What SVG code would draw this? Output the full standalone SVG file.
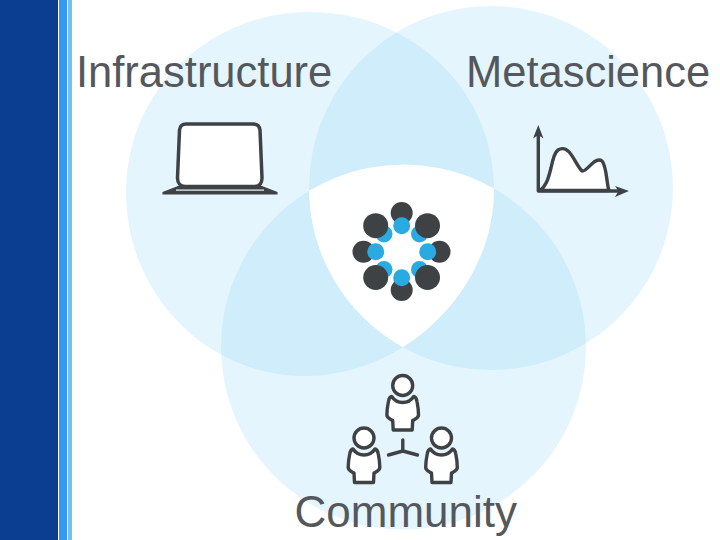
<svg xmlns="http://www.w3.org/2000/svg" width="720" height="540" viewBox="0 0 720 540">
<style>
.pale{fill:#e5f5fe}
.mid{fill:#d0edfb}
.lbl{font-family:"Liberation Sans",Arial,sans-serif;font-size:43.500px;fill:#54585c}
.dk{fill:#3f4245}
.bl{fill:#29abe2}
.ln{fill:none;stroke:#3f4245;stroke-width:3.400;stroke-linecap:round;stroke-linejoin:round}
.wln{fill:#fff;stroke:#3f4245;stroke-width:3.400;stroke-linejoin:round}
</style>
<defs>
<path id="shapeA" d="M126 192C126 91 208 12 310 12C412 12 494 90 494 190C494 289 405 376 305 376C205 376 126 293 126 192Z"/>
<clipPath id="cA"><use href="#shapeA"/></clipPath>
<clipPath id="cB"><circle cx="491" cy="188" r="182"/></clipPath>
<clipPath id="cAB" clip-path="url(#cA)"><circle cx="491" cy="188" r="182"/></clipPath>
<g id="person">
<circle cx="0" cy="0" r="10" class="wln"/>
<path class="wln" d="M-11 11C-8 15.500 -4 17 0 17C4 17 8 15.500 11 11C13 11.500 13.800 13 14.300 16C15.300 21 15.800 26 15.800 29.500C15.800 32.500 12.500 33.500 10 35L9.500 44.500L-9.500 44.500L-10 35C-12.500 33.500 -15.800 32.500 -15.800 29.500C-15.800 26 -15.300 21 -14.300 16C-13.800 13 -13 11.500 -11 11Z"/>
</g>
</defs>
<rect width="720" height="540" fill="#fff"/>
<g id="sidebar">
<rect x="0" y="0" width="58" height="540" fill="#0b3d91"/>
<rect x="59" y="0" width="8" height="540" fill="#3399f3"/>
<rect x="68" y="0" width="4" height="540" fill="#74c0f0"/>
</g>
<g id="venn">
<use href="#shapeA" class="pale"/>
<circle class="pale" cx="491" cy="188" r="182"/>
<circle class="pale" cx="403.500" cy="347" r="182.500"/>
<circle class="mid" cx="491" cy="188" r="182" clip-path="url(#cA)"/>
<circle class="mid" cx="403.500" cy="347" r="182.500" clip-path="url(#cA)"/>
<circle class="mid" cx="403.500" cy="347" r="182.500" clip-path="url(#cB)"/>
<circle fill="#fff" cx="403.500" cy="347" r="182.500" clip-path="url(#cAB)"/>
</g>
<g id="center-cluster">
<circle class="bl" cx="384" cy="234" r="8.500"/>
<circle class="bl" cx="419.500" cy="234" r="8.500"/>
<circle class="bl" cx="384" cy="269.500" r="8.500"/>
<circle class="bl" cx="419.500" cy="269.500" r="8.500"/>
<circle class="dk" cx="401.700" cy="213" r="11"/>
<circle class="dk" cx="375.700" cy="225.700" r="12.500"/>
<circle class="dk" cx="427.500" cy="225.700" r="12.500"/>
<circle class="dk" cx="363.500" cy="251.700" r="11"/>
<circle class="dk" cx="439.500" cy="251.700" r="11"/>
<circle class="dk" cx="375.700" cy="277.500" r="12.500"/>
<circle class="dk" cx="427.500" cy="277.500" r="12.500"/>
<circle class="dk" cx="401.700" cy="290" r="11"/>
<circle class="bl" cx="401.700" cy="225.700" r="8.500"/>
<circle class="bl" cx="375.700" cy="251.700" r="8.500"/>
<circle class="bl" cx="427.700" cy="251.700" r="8.500"/>
<circle class="bl" cx="401.700" cy="277.700" r="8.500"/>
</g>
<g id="infrastructure">
<text class="lbl" x="76" y="87">Infrastructure</text>
<path d="M186 124H253C257 124 259.500 126.500 260 130L262 178C262 183 259.500 186.500 255 186.500H185C180.500 186.500 177.500 183 177.500 178L179.500 130C180 126 182 124 186 124Z" fill="#fff" stroke="#3f4245" stroke-width="3.500"/>
<path class="dk" d="M178 186H262L277.500 192V194.500H162.500V192Z"/>
<path d="M176 190.200H264" stroke="#e5f5fe" stroke-width="1.200" fill="none"/>
</g>
<g id="metascience">
<text class="lbl" x="466" y="87">Metascience</text>
<path d="M540 190.500C546 186 548 180 551 168C553 158 555 152 558 150C561 148 565 148 568 151C573 155 577 166 582 171C585 172 590 165 594 162C597 160 600 159.500 602 161C605 164 606 172 607 180C607.500 184 608 188 609 190.500Z" fill="#fff" stroke="#3f4245" stroke-width="3.400" stroke-linejoin="round"/>
<path class="ln" d="M538.300 191V135M538.300 191H618"/>
<path class="dk" d="M538.300 125L533 138.500L538.300 135L543.500 138.500Z"/>
<path class="dk" d="M629 191L615 186L618.500 191L615 197Z"/>
</g>
<g id="community">
<use href="#person" x="402.700" y="385.500"/>
<use href="#person" x="364" y="438"/>
<use href="#person" x="441.500" y="438"/>
<path class="ln" d="M402.800 440V451M388.500 455L402.800 451L417.500 455"/>
<text class="lbl" x="294.500" y="527" style="font-size:44px">Community</text>
</g>
</svg>
